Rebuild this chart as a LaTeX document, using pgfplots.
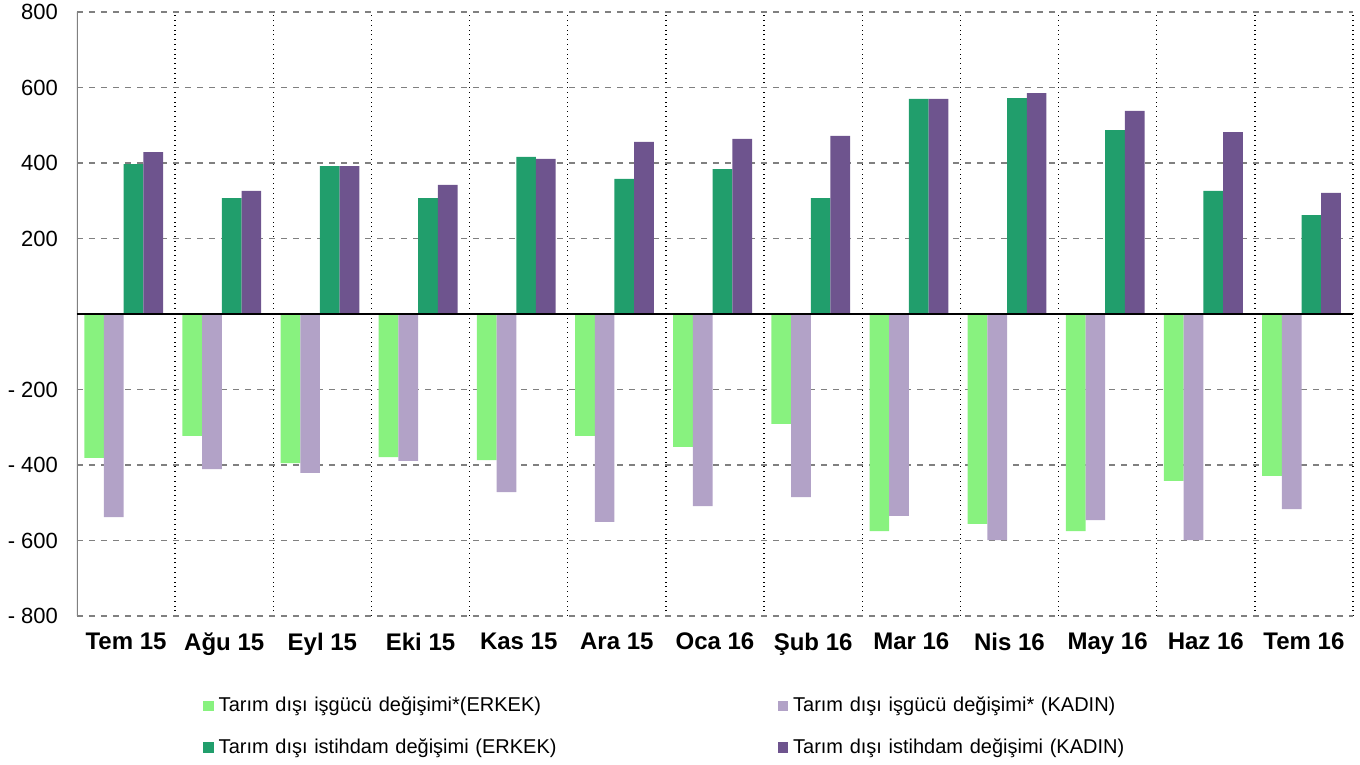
\documentclass[border=0pt]{standalone}
\usepackage{pgfplots}
\pgfplotsset{compat=1.18}
\usepackage{fontspec}
\setmainfont{Liberation Sans}
\definecolor{lgreen}{RGB}{136,242,127}
\definecolor{lpurple}{RGB}{178,162,199}
\definecolor{dgreen}{RGB}{33,158,108}
\definecolor{dpurple}{RGB}{110,84,142}
\begin{document}
\begin{tikzpicture}
\useasboundingbox (0,0) rectangle (680pt,382.5pt);
\begin{axis}[
  at={(38.5pt,74.5pt)}, anchor=south west,
  scale only axis, width=638pt, height=302pt,
  xmin=-0.5, xmax=12.5, ymin=-800, ymax=800,
  ybar=0pt, bar width=9.85pt,
  axis line style={draw=none},
  major tick length=0pt, minor tick length=0pt,
  xtick={0,...,12},
  xticklabels={Tem 15,Ağu 15,Eyl 15,Eki 15,Kas 15,Ara 15,Oca 16,Şub 16,Mar 16,Nis 16,May 16,Haz 16,Tem 16},
  xticklabel style={font=\fontsize{12}{14}\selectfont\bfseries, yshift=-5pt},
  minor xtick={0.5,1.5,...,12.5},
  minor x grid style={black, dotted, line width=0.7pt},
  xminorgrids=true,
  ytick={-800,-600,-400,-200,0,200,400,600,800},
  yticklabels={- 800,- 600,- 400,- 200,,200,400,600,800},
  yticklabel style={font=\fontsize{11}{13}\selectfont, xshift=-6pt},
  ymajorgrids=true,
  major y grid style={gray, dashed, line width=0.6pt},
  legend columns=2,
  legend style={draw=none, fill=none, at={(0.0987,-0.13)}, anchor=north west,
    font=\fontsize{10}{12}\selectfont, inner sep=0pt,
    nodes={text width=280pt, align=left, inner sep=1pt},
    /tikz/every even column/.append style={column sep=0pt},
    row sep=10pt},
  legend image code/.code={\fill[#1] (0pt,-2.6pt) rectangle (5.2pt,2.6pt);},
  every axis plot/.append style={xshift=-1.2pt},
]
\addplot[fill=lgreen, draw=none] coordinates {(0,-381) (1,-323) (2,-395) (3,-379) (4,-387) (5,-323) (6,-352) (7,-291) (8,-575) (9,-556) (10,-575) (11,-442) (12,-429)};
\addplot[fill=lpurple, draw=none] coordinates {(0,-538) (1,-411) (2,-421) (3,-389) (4,-472) (5,-551) (6,-509) (7,-485) (8,-535) (9,-599) (10,-546) (11,-599) (12,-517)};
\addplot[fill=dgreen, draw=none] coordinates {(0,397) (1,307) (2,392) (3,307) (4,416) (5,358) (6,384) (7,307) (8,570) (9,572) (10,487) (11,326) (12,262)};
\addplot[fill=dpurple, draw=none] coordinates {(0,429) (1,326) (2,392) (3,342) (4,411) (5,456) (6,464) (7,472) (8,570) (9,585) (10,538) (11,482) (12,321)};
\legend{\hspace{1.5pt}Tarım dışı işgücü değişimi*(ERKEK),\hspace{1.5pt}Tarım dışı işgücü değişimi* (KADIN),\hspace{1.5pt}Tarım dışı istihdam değişimi (ERKEK),\hspace{1.5pt}Tarım dışı istihdam değişimi (KADIN)}
\draw[gray, line width=0.8pt] (rel axis cs:0,0) -- (rel axis cs:0,1);
\draw[black, line width=0.8pt] (axis cs:-0.5,0) -- (axis cs:12.5,0);
\end{axis}
\end{tikzpicture}
\end{document}
